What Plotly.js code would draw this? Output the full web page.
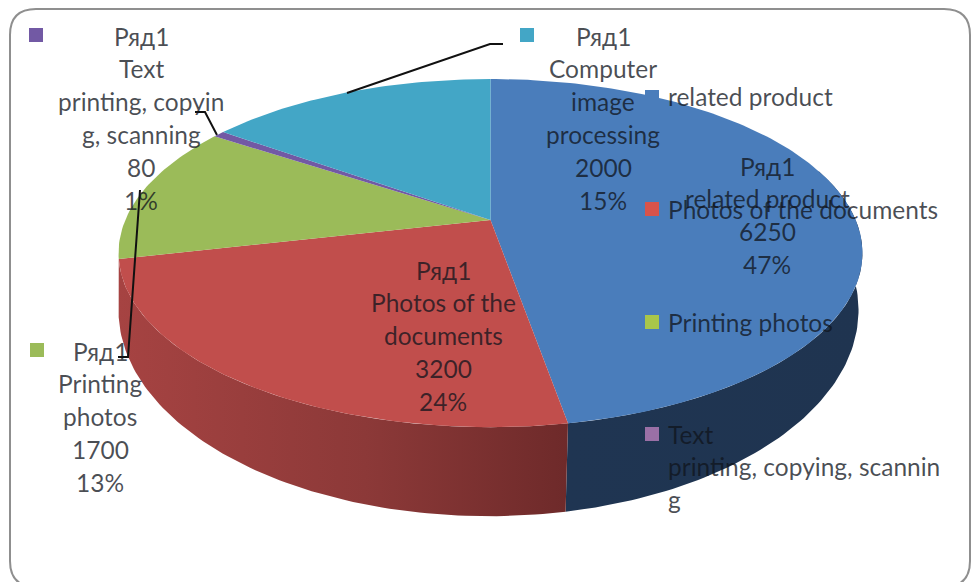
<!DOCTYPE html>
<html>
<head>
<meta charset="utf-8">
<script src="https://cdn.plot.ly/plotly-3.0.1.min.js"></script>
<style>html,body{margin:0;padding:0;background:#fff}#chart{width:973px;height:582px}</style>
</head>
<body>
<div id="chart"></div>
<script>
// Services and their order values, clockwise from twelve o'clock
const seriesName = 'Ряд1';
const services = ['related product', 'Photos of the documents', 'Printing photos', 'Text printing, copying, scanning', 'Computer image processing'];
const orders = [6250, 3200, 1700, 80, 2000];

// How each data label wraps its service name
const labelWraps = [
  ['related product'],
  ['Photos of the', 'documents'],
  ['Printing', 'photos'],
  ['Text', 'printing, copyin', 'g, scanning'],
  ['Computer', 'image', 'processing']
];
const legendWraps = [
  ['related product'],
  ['Photos of the documents'],
  ['Printing photos'],
  ['Text', 'printing, copying, scannin', 'g']
];

const topColors = ['#4a7dbb', '#c14e4c', '#9bbb59', '#7259a4', '#43a6c6'];
const wallGradients = [
  [[0, '#1f3552'], [1, '#1f3450']],
  [[0, '#a64342'], [0.55, '#8c3938'], [1, '#6e2a2a']]
];

// Perspective projection of the disc: top face and bottom face
const topFace = {cx: 490.5, cy: 220, a: 365.2, b: 167.8, k: 0.19};
const bottomFace = {cx: 488.5, cy: 271, a: 363.3, b: 198.6, k: 0.19};

function project(face, deg) {
  const t = deg * Math.PI / 180;
  const d = 1 + face.k * Math.cos(t);
  return [face.cx + face.a * Math.sin(t) / d, face.cy - face.b * Math.cos(t) / d];
}
function arc(face, from, to) {
  const n = Math.max(2, Math.ceil(Math.abs(to - from)));
  const out = [];
  for (let i = 0; i <= n; i++) out.push(project(face, from + (to - from) * i / n));
  return out;
}

const total = orders.reduce((s, v) => s + v, 0);
const starts = [];
orders.reduce((s, v, i) => { starts[i] = s; return s + v; }, 0);
const angle = v => v / total * 360;

const traces = [];
function polygon(points, style) {
  traces.push(Object.assign({
    type: 'scatter', mode: 'lines', fill: 'toself',
    x: points.map(p => p[0]), y: points.map(p => p[1]),
    line: {width: 0}, hoverinfo: 'skip', showlegend: false
  }, style));
}

// Outer wall: only the slices turned towards the viewer show it
const wallFrom = [72, angle(starts[1])];
const wallTo = [angle(starts[1]), angle(starts[2])];
wallFrom.forEach((from, i) => {
  const upper = arc(topFace, from, wallTo[i]);
  const lower = arc(bottomFace, wallTo[i], from);
  polygon(upper.concat(lower), {
    fillcolor: wallGradients[i][0][1],
    fillgradient: {type: 'horizontal', colorscale: wallGradients[i]}
  });
});

// Top face, one wedge per service
orders.forEach((v, i) => {
  const from = angle(starts[i]);
  const pts = [[topFace.cx, topFace.cy]].concat(arc(topFace, from, from + angle(v)));
  polygon(pts, {fillcolor: topColors[i]});
});

// Leader lines from the outlying labels to their slices
const leaderLines = [
  {x: [347, 490, 503], y: [93, 44, 44]},
  {x: [217, 205, 195], y: [135, 112, 112]},
  {x: [140, 133, 128, 118], y: [190, 287, 357, 357]}
];
leaderLines.forEach(l => traces.push({
  type: 'scatter', mode: 'lines', x: l.x, y: l.y,
  line: {color: '#111', width: 2}, hoverinfo: 'skip', showlegend: false
}));

// Legend keys placed around the plot, slice keys beside the labels
const keyColors = ['#7259a4', '#43a6c6', '#4a7dbb', '#d9534a', '#a9c64a', '#9a70a6', '#9bbb59'];
traces.push({
  type: 'scatter', mode: 'markers',
  x: [36, 527, 652, 652, 652, 652, 37],
  y: [35, 35, 97, 209, 322, 434, 350],
  marker: {symbol: 'square', size: 14, color: keyColors, line: {width: 0}},
  hoverinfo: 'skip', showlegend: false
});

// Text lines: each is its own annotation so the line pitch can be set freely
const annotations = [];
const textInk = 'rgba(16,20,28,0.76)';
const pitch = 32.8;
function textBlock(lines, x, y, anchor) {
  lines.forEach((line, i) => annotations.push({
    xref: 'x', yref: 'y', x: x, y: y + i * pitch, text: line, showarrow: false,
    xanchor: anchor, yanchor: 'middle', align: anchor,
    font: {family: 'Lato, Carlito, sans-serif', size: 24.5, color: textInk}
  }));
}
const labelSpots = [[767, 166], [443, 270], [100, 351], [141, 36], [603, 36]];
orders.forEach((v, i) => {
  const lines = [seriesName].concat(labelWraps[i], [String(v), Math.round(v / total * 100) + '%']);
  textBlock(lines, labelSpots[i][0], labelSpots[i][1], 'center');
});
const legendSpots = [96, 209, 322, 434];
legendWraps.forEach((lines, i) => textBlock(lines, 666, legendSpots[i], 'left'));

const hidden = {visible: false, fixedrange: true};
Plotly.newPlot('chart', traces, {
  width: 973, height: 582,
  margin: {l: 0, r: 0, t: 0, b: 0},
  paper_bgcolor: '#fff', plot_bgcolor: '#fff',
  xaxis: Object.assign({range: [0, 973]}, hidden),
  yaxis: Object.assign({range: [582, 0]}, hidden),
  annotations: annotations,
  shapes: [{
    type: 'path', xref: 'x', yref: 'y', layer: 'below',
    path: 'M 36 9 L 944 9 Q 970 9 970 35 L 970 561 Q 970 587 944 587 L 36 587 Q 10 587 10 561 L 10 35 Q 10 9 36 9 Z',
    line: {color: '#8f8f8f', width: 2}, fillcolor: '#fff'
  }]
}, {displayModeBar: false, staticPlot: true});
</script>
</body>
</html>
